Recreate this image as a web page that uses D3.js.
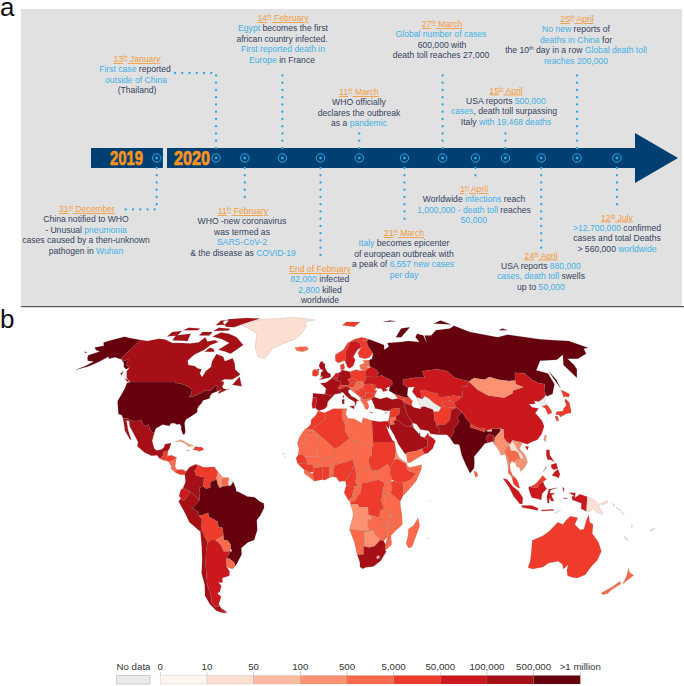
<!DOCTYPE html>
<html><head><meta charset="utf-8">
<script src="https://cdn.jsdelivr.net/npm/d3@7"></script>
<style>html,body{margin:0;padding:0;background:#fff}svg{display:block}text{font-family:"Liberation Sans",Arial,sans-serif}</style>
</head><body><svg id="c" width="684" height="686"></svg>
<script>
// ---------- legend data ----------
const caseThresholds=[10,50,100,500,5000,50000,100000,500000];
const binColors=["#fff5f0","#fee0d2","#fcbba1","#fc9272","#fb6a4a","#ef3b2c","#cb181d","#a50f15","#67000d"];
const legendLabels=["0","10","50","100","500","5,000","50,000","100,000","500,000",">1 million"];
const noDataLabel="No data";
// ---------- timeline data ----------
const yearLabels=["2019","2020"];
const eventTrack=[11.2,21.3,26.2,32.6,39.1,45.7,53.4,59.9,65.5,70.6,76.7,82.8,89.6]; // % along the arrow
const eventTitles=["31^st^ December","13^th^ January","11^th^ February","14^th^ February","End of February","11^th^ March","21^st^ March","27^th^ March","1^st^ April","15^th^ April","24^th^ April","25^th^ April","12^th^ July"];
const eventLines=[
["China notified to WHO","- Unusual {pneumonia}","cases caused by a then-unknown","pathogen in {Wuhan}"],
["{First case} reported","{outside of China}","(Thailand)"],
["WHO -new coronavirus","was termed as","{SARS-CoV-2}","& the disease as {COVID-19}"],
["{Egypt} becomes the first","african country infected.","{First reported death in}","{Europe} in France"],
["{82,000} infected","{2,800} killed","worldwide"],
["WHO officially","declares the outbreak","as a {pandemic}"],
["{Italy} becomes epicenter","of european outbreak with","a peak of {6,557 new cases}","{per day}"],
["{Global number of cases}","600,000 with","death toll reaches 27,000"],
["Worldwide {infections} reach","{1,000,000 - death toll} reaches","{50,000}"],
["USA reports {500,000}","{cases}, death toll surpassing","Italy {with 19,468 deaths}"],
["USA reports {880,000}","{cases, death toll} swells","up to {50,000}"],
["{No new} reports of","{deaths in China} for","the 10^th^ day in a row {Global death toll}","{reaches 200,000}"],
["{>12,700,000} confirmed","cases and total Deaths","> 560,000 {worldwide}"]];
// ---------- map data: estimated cumulative cases (null = no data) ----------
const cases={USA:3300000,Alaska:3300000,Brazil:1800000,India:900000,Russia:730000,
Canada:108000,Mexico:300000,Peru:320000,Chile:315000,Colombia:150000,UK:290000,France:170000,Spain:255000,Germany:200000,Italy:243000,Turkey:212000,Iran:257000,SaudiArabia:232000,Pakistan:250000,SouthAfrica:276000,Iraq:105000,
Argentina:97000,Ecuador:70000,Bolivia:45000,China:85000,Sweden:75000,Indonesia:75000,Philippines:55000,Egypt:80000,Bangladesh:180000,Kazakhstan:55000,Oman:57000,UAE:55000,Qatar:100000,Kuwait:55000,Portugal:50000,Belarus:65000,Ukraine:55000,Romania:32000,Poland:38000,Netherlands:52000,Belgium:63000,Israel:40000,Dominican:45000,Panama:45000,
Venezuela:9500,Guatemala:25000,Honduras:30000,Salvador:10000,Haiti:7000,Nigeria:32000,Ghana:25000,Cameroon:15000,Ethiopia:8000,Kenya:11000,DRC:8000,Sudan:10000,Morocco:16000,Algeria:20000,Guinea:6500,Senegal:8000,IvoryCoast:12000,Gabon:6000,Australia:9800,Japan:22000,SouthKorea:13000,Afghanistan:34000,Uzbekistan:13000,Tajikistan:6500,Kyrgyz:11000,Switzerland:33000,Austria:19000,Ireland:25000,Denmark:13000,Norway:9000,Finland:7000,Czech:13000,Serbia:20000,Moldova:20000,Armenia:32000,Azerbaijan:26000,Greece:4000,Bulgaria:8000,Hungary:4300,Slovakia:2000,Syria:5000,Malaysia:8700,Nepal:17000,Yemen:1500,Georgia:5000,Bosnia:7000,Macedonia:9000,
Guyana:300,Suriname:700,Nicaragua:3000,CostaRica:4000,Paraguay:3000,Uruguay:1000,Iceland:1800,Estonia:2000,Latvia:1200,Lithuania:1900,Slovenia:1900,Croatia:4000,Albania:3500,Jordan:1200,Libya:1400,Tunisia:1300,Mali:2400,Niger:1100,Chad:880,Mauritania:4500,WesternSahara:1000,SierraLeone:1600,Liberia:1000,BurkinaFaso:1000,Togo:700,Benin:1700,CAR:4500,Congo:2500,SouthSudan:2200,Uganda:1000,Rwanda:1300,Tanzania:509,Somalia:3100,Eritrea:232,Djibouti:4800,Zambia:2000,Malawi:2400,Mozambique:1400,Zimbabwe:1300,Namibia:900,Madagascar:4900,SriLanka:2600,Thailand:3200,Lesotho:90,NewZealand:1500,Cyprus:1000,
Cuba:400,Jamaica:300,Mongolia:230,Myanmar:330,Taiwan:450,Vietnam:370,Cambodia:165,Angola:480,Botswana:300,
Laos:19,PNG:11,Bhutan:84,Greenland:13,Timor:24,
Turkmenistan:null,NorthKorea:null,FrenchGuiana:null,Solomon:null,Vanuatu:null,NewCaledonia:null,Fiji:null,CapeVerde:null,Reunion:null,Seychelles:null};
const outlines={
USA:["-124.7,48.4;-123,49;-95.2,49;-94.6,48.7;-92,48.3;-89.6,48;-84.5,46.5;-82.5,45.3;-82.4,43;-83,42;-79,42.8;-79,43.3;-76.5,44;-75,45;-71.5,45;-70.3,46;-69.2,47.4;-68,47.3;-67.8,45.7;-67,44.8;-70,43.7;-70.7,42;-70,41.7;-74,40.6;-74.2,39.5;-75.5,38;-76,36.9;-75.5,35.3;-77.5,34;-79,33.2;-81,32;-81.4,30.5;-80.5,28;-80,26.5;-80.4,25.2;-81.2,25.5;-82.7,27.8;-82.8,29;-84,30;-85.5,29.8;-87,30.4;-89,30.3;-89.5,29.2;-91,29.3;-93.5,29.8;-95,29;-97,28;-97.3,26;-99,26.4;-100.5,28;-101.5,29.8;-103,29;-104.5,29.6;-106.5,31.8;-108.2,31.4;-111,31.3;-114.8,32.5;-117.1,32.5;-118.5,34;-120.6,34.5;-122,36.8;-123.8,39.5;-124.3,40.5;-124.1,43;-124,46.2"],
Alaska:["-141,69.6;-141,60.3;-137.5,58.9;-135.5,59.8;-133.5,57;-130,55.9;-131.5,55;-134,56;-136.5,58;-140,59.7;-146,60.7;-149,60;-151,61;-154,58.5;-158,56.3;-164,54.6;-160,56.5;-157.5,58.7;-162,59;-164.5,60.5;-166,61.8;-161,63.6;-165,64.4;-168,65.6;-163,66.5;-166.5,68.3;-163,69.5;-156.5,71.3;-150,70.5","-172,63.5;-169,63.3;-170,63"],
Canada:["-141,69.6;-135,69;-128,70.2;-123,69.8;-115,68;-108,68;-102,67.8;-96,68.2;-94,71;-90,68.8;-85,69.5;-81.5,68.5;-86,67;-88,64.5;-93,62;-94.7,59;-92.5,57;-88,56.5;-85,55.3;-82.3,55;-82,52.8;-79.5,51.3;-79,54;-76.8,56;-78,58.7;-77.7,62.4;-72,61;-69.5,58.8;-65,60.3;-62,57.5;-60.5,55;-56,52.5;-60,50.2;-65,50.3;-67,49.3;-65,49.2;-64.5,48;-65,47;-64,46;-61,45.5;-60,46;-63.5,44.6;-66,43.6;-66,44.5;-64.5,45.6;-67,44.8;-67.8,45.7;-68,47.3;-69.2,47.4;-70.3,46;-71.5,45;-75,45;-76.5,44;-79,43.3;-79,42.8;-83,42;-82.4,43;-82.5,45.3;-84.5,46.5;-89.6,48;-92,48.3;-94.6,48.7;-95.2,49;-123,49;-127,51;-130,54;-130,55.9;-133.5,57;-135.5,59.8;-137.5,58.9;-141,60.3",
"-123.5,48.4;-128,50.6;-125,50","-59,47.7;-56,51.5;-53,47","-62,67;-68,62.5;-72,63.5;-78,64.5;-73,68;-80,70;-89,71.5;-85,73.7;-78,73;-70,71","-105,69;-117,69.5;-118,72;-108,73","-117,72;-124,71.5;-124,74;-117,74.5","-62,82.5;-75,83;-90,82;-92,80;-85,77;-78,76.8;-72,79","-80,74.8;-92,74.5;-90,76.5;-80,75.8","-105,75;-117,75;-115,76.5;-105,76","-92,72;-100,72;-100,74;-92,74","-88,78.5;-95,78;-95,81;-88,81","-80,63.5;-87,63.5;-85,65.5;-82,65","-132,54;-133,53;-131.5,52"],
Greenland:["-73,78;-68,80;-60,82;-45,82.5;-32,83.5;-12,81.5;-20,80;-18,77;-22,72;-25,70;-32,68;-40,65;-43,60;-48,61;-52,65;-54,69;-56,73;-65,76"],
Iceland:["-24,65.5;-22,64;-18,63.5;-14,64.5;-15,66;-20,66"],
Mexico:["-117.1,32.5;-114.8,32.5;-111,31.3;-108.2,31.4;-106.5,31.8;-104.5,29.6;-103,29;-101.5,29.8;-100.5,28;-99,26.4;-97.3,26;-97.8,22.5;-96,19;-94.5,18.2;-92,18.6;-90.7,19.5;-90.4,21;-87,21.5;-87.6,19;-88.2,18;-89.1,17.9;-91,17.2;-90.5,16;-92.2,14.5;-94,16;-97,15.8;-101,17.2;-105.5,20;-105.5,22;-109,26;-112,29;-113,31.3;-114.8,31.7;-112.5,27.5;-109.5,23;-110.3,23.2;-114,27;-115.5,30"],
Guatemala:["-92.2,14.5;-90.5,16;-91,17.2;-89.1,17.9;-88.2,18;-88.3,16;-88.2,15.7;-89.3,14.4;-90.1,13.8"],
Honduras:["-89.3,14.4;-88.2,15.7;-86,16;-83.2,15;-84.5,14;-87.3,13.1"],
Salvador:["-90.1,13.8;-89.3,14.4;-87.7,13.3"],
Nicaragua:["-87.3,13.1;-84.5,14;-83.2,15;-83.6,11;-85.7,11.1"],
CostaRica:["-85.7,11.1;-83.6,11;-82.6,9.5;-83,8.2;-85.7,10"],
Panama:["-83,8.2;-82.6,9.5;-79.5,9.6;-77.4,8.7;-78,7.3;-80.5,7.3"],
Cuba:["-85,22;-82,23.1;-77,21;-74.2,20.2;-77.5,19.9;-78.5,21;-82,22.3"],
Jamaica:["-78.3,18.4;-76.3,18;-77,17.8"],
Haiti:["-74.4,18.5;-73.5,19.9;-71.7,19.7;-71.7,18.2"],
Dominican:["-71.7,19.7;-69.8,19.6;-68.4,18.6;-71.4,17.7;-71.7,18.2"],
Colombia:["-77.4,8.7;-75.5,10.7;-72.2,12;-71.3,11;-72.8,9;-71.8,7;-67.5,6.2;-67.8,2;-70,1.5;-69.6,-0.5;-70,-4.2;-72,-2.4;-75.2,-0.1;-78.8,1.4;-77.5,4;-78,7.3"],
Venezuela:["-72.2,12;-68,10.6;-62,10.7;-60,8.5;-61,5;-60.7,5.2;-64,4;-64,1.5;-66.5,1;-67.8,2;-67.5,6.2;-71.8,7;-72.8,9;-71.3,11"],
Guyana:["-60,8.5;-57.2,6;-58,4;-57.3,2;-59,1.3;-60,3;-60.7,5.2;-61,5"],
Suriname:["-57.2,6;-54,5.9;-54.3,2.3;-57.3,2;-58,4"],
FrenchGuiana:["-54,5.9;-51.6,4.2;-52.8,2.3;-54.3,2.3"],
Ecuador:["-78.8,1.4;-75.2,-0.1;-75.5,-1.5;-78.5,-4.5;-80,-3.4;-81,-2.2;-80,0.5"],
Peru:["-81.3,-4.7;-80,-3.4;-78.5,-4.5;-75.5,-1.5;-75.2,-0.1;-72,-2.4;-70,-4.2;-73,-7;-74,-7.5;-70.6,-9.5;-70.6,-11;-69,-12.5;-69.4,-15.5;-69.5,-17.5;-70.4,-18.3;-76,-14;-78,-10"],
Brazil:["-60.7,5.2;-60,3;-59,1.3;-57.3,2;-54.3,2.3;-52.8,2.3;-51.6,4.2;-50,1;-50,0;-48,-0.7;-44,-2.5;-40,-2.8;-37,-4.8;-35,-5.5;-34.8,-7.5;-37,-11;-39,-13;-39,-17.5;-41,-22;-44.5,-23;-48.5,-25.5;-48.7,-28.5;-52,-32.5;-53.4,-33.7;-53.5,-32;-56,-30.2;-57.6,-30.2;-55,-27.3;-53.8,-27;-54.6,-25.5;-54.3,-24;-55.7,-22.3;-58,-22;-57.9,-19;-58.2,-16.3;-60.2,-16.3;-60.5,-13.7;-65.3,-11.5;-65.4,-9.8;-69,-11;-70.6,-11;-70.6,-9.5;-74,-7.5;-73,-7;-70,-4.2;-69.6,-0.5;-70,1.5;-67.8,2;-66.5,1;-64,1.5;-64,4"],
Bolivia:["-69,-11;-65.4,-9.8;-65.3,-11.5;-60.5,-13.7;-60.2,-16.3;-58.2,-16.3;-57.9,-19;-58,-20;-62.5,-22;-65,-22;-67,-23;-68.5,-20;-69.5,-17.5;-69.4,-15.5;-69,-12.5;-70.6,-11"],
Paraguay:["-62.5,-22;-58,-20;-57.9,-19;-58,-22;-55.7,-22.3;-54.3,-24;-54.6,-25.5;-55,-27;-58.5,-27.2;-60,-24"],
Chile:["-70.4,-18.3;-69.5,-17.5;-68.5,-20;-67,-23;-68.5,-27;-70,-33;-71,-38;-72,-42;-72,-48;-73,-50;-72,-52;-68.5,-52.3;-68.6,-54.9;-67,-55.5;-72,-54;-74.5,-51;-75.5,-47;-73.5,-42;-73.5,-37;-71.5,-31;-70.5,-25"],
Argentina:["-67,-23;-65,-22;-62.5,-22;-60,-24;-58.5,-27.2;-55,-27;-53.8,-27;-55,-27.3;-57.6,-30.2;-58.2,-34;-57,-36;-57.7,-38;-62,-39;-62.5,-41;-65,-41;-63.8,-42.5;-65.5,-45;-67.5,-46;-65.8,-47.5;-69,-51;-68.5,-52.3;-72,-52;-73,-50;-72,-48;-72,-42;-71,-38;-70,-33;-68.5,-27","-68.5,-52.7;-65.3,-54.8;-68.6,-54.9"],
Uruguay:["-57.6,-30.2;-56,-30.2;-53.5,-32;-53.4,-33.7;-55,-35;-58.2,-34"],
UK:["-5.5,50;-1,50.7;1.5,51.2;1.7,52.7;0,53.3;-1.5,55;-2,56;-2,57.7;-3.5,57.7;-3,58.6;-5,58.6;-6,56.7;-4.8,55;-3,54.5;-4.5,53.3;-4.5,52;-5,51.6;-3,51.4","-8,54.5;-6,55.2;-5.6,54.4"],
Ireland:["-10,52;-8,51.6;-6.2,52.2;-6,53.5;-6.2,54.2;-8,54.5;-8.3,55.2;-10,54.2"],
France:["-1.8,43.4;-1.2,46;-4.7,48.4;-1.5,48.7;1.5,50.1;2.6,51;4.2,50;5.9,49.5;8.2,49;7.6,47.6;6,46.3;7,45.8;7.5,43.8;4,43.4;3,42.5","8.7,42.5;9.5,43;9.4,41.5"],
Spain:["-9,43.8;-1.8,43.4;3,42.5;0.5,40.6;-0.3,39.5;-0.5,38;-2,36.8;-5.4,36;-7.4,37.2;-7,39;-6.5,41.8;-9,41.9"],
Portugal:["-9,41.9;-6.5,41.8;-7,39;-7.4,37.2;-9,37;-9.5,38.7"],
Netherlands:["3.4,51.4;4.8,53;7,53.3;6.1,50.8"],
Belgium:["2.6,51;3.4,51.4;6.1,50.8;5.9,49.5;4.2,50"],
Germany:["6.1,50.8;7,53.3;8.7,54;8.7,55;10,54.5;14.2,53.8;14.8,51;12.2,50.2;13.7,48.7;13,47.5;9.6,47.5;7.6,47.6;8.2,49;5.9,49.5"],
Switzerland:["6,46.3;7.6,47.6;9.6,47.5;10.4,46.8;8.5,46;7,45.8"],
Austria:["9.6,47.5;13,47.5;13.7,48.7;16.9,48.6;16.1,46.8;13,46.5;10.4,46.8"],
Italy:["7,45.8;8.5,46;10.4,46.8;13,46.5;13.7,45.6;12.3,45.3;12.3,44.3;14,42.5;16,41.8;18.5,40.2;17,40.5;16.7,39.6;16,38;15.7,40;12.5,41.5;10.5,43;8.8,44.4;7.5,43.8","12.5,38;15.5,38.2;15.1,36.7","8.2,41;9.7,41;9.5,39;8.5,39"],
Denmark:["8.1,55;8.7,55;10,54.8;11,55.5;10.5,57.7;8.2,57"],
Norway:["5,59;7,58;10.5,59;11.5,59;12.5,61;12,63.5;14,65;16.5,68.5;20.5,69;25,69;29,69.5;31,70;26,71;20,70;14.5,68;11,64.5;5,62","12,78;22,77;28,80;16,80"],
Sweden:["11.5,59;12.7,56;14.3,55.4;16.5,56.5;18.5,59.5;17.3,61;21,64.5;24,65.8;23.5,68;20.5,69;16.5,68.5;14,65;12,63.5;12.5,61"],
Finland:["24,65.8;21,63;21.5,60.8;25,60;28,60.5;31.5,62.8;29,66.5;29,69;29,69.5;25,69;20.5,69;23.5,68"],
Estonia:["23.5,59.2;28,59.4;27.5,57.6;24.5,58"],
Latvia:["21,57;24.5,58;27.5,57.6;28,56;25,56.3;21,56.2"],
Lithuania:["21,56.2;25,56.3;26.6,55.6;24,54;22.8,54.4;21,55.3"],
Poland:["14.2,53.8;18.5,54.8;19.7,54.4;22.8,54.4;24,54;23.6,51.5;24,50.4;22.5,49.1;19,49.5;14.8,51"],
Czech:["12.2,50.2;14.8,51;19,49.5;16.9,48.6;13.7,48.7"],
Slovakia:["16.9,48.6;19,49.5;22.5,49.1;22,48.4;18,47.8"],
Hungary:["16.1,46.8;16.9,48.6;18,47.8;22,48.4;22.9,48;21,46.2;18.8,45.9;16.5,46.5"],
Slovenia:["13.7,45.6;13,46.5;16.1,46.8;16.5,46.5;15.3,45.5"],
Croatia:["13.7,45.6;15.3,45.5;16.5,46.5;18.8,45.9;19,45;16,45.2;18.5,42.5;15,44.7"],
Bosnia:["16,45.2;19,45;19.5,44;18.5,42.5"],
Serbia:["19,45;18.8,45.9;21,46.2;22.5,44.5;22.4,42.3;20.5,42.3;19.3,42;18.5,42.5;19.5,44"],
Albania:["19.3,42;20.5,42.3;21,40.9;20,39.7;19.4,40.5"],
Macedonia:["20.5,42.3;22.4,42.3;23,41.3;21,40.9"],
Greece:["20,39.7;21,40.9;23,41.3;26.3,41.7;26,40.9;23,40.3;24,38;23,36.5;21.7,36.8;21,38.5","23.6,35.5;26.3,35.3;25,35"],
Bulgaria:["22.5,44.3;28.5,43.6;27.7,42.5;28,42;26.3,41.7;23,41.3;22.4,42.3"],
Romania:["21,46.2;22.9,48;26.6,48.2;28.2,45.5;29.7,45;28.5,43.6;22.5,44.3"],
Moldova:["26.6,48.2;28.5,48;30,46.4;28.2,45.5"],
Ukraine:["22.5,49.1;24,50.4;23.6,51.5;30.6,51.3;34,52.2;40,49.6;39.7,47.8;38,47;35,46;36.5,45.3;33.5,44.5;32.5,46;30.5,46;30,46.4;28.5,48;26.6,48.2;22.9,48;22,48.4"],
Belarus:["24,54;26.6,55.6;28,56;31,55;32.7,53.3;30.6,51.3;23.6,51.5"],
Russia:["31,70;41,67;40,64.5;44,66;44,68;54,68.5;60,69;68,68.5;67,71;70,73;74,72;73,68;75,72;80,72;87,75;100,76;106,77.7;113,74;130,71;140,72.5;160,70;170,69.5;180,69;187,65.5;183,65;180,62.5;170,60;163,60;163,57;162,55;157,51;156,57;163,62;155,59.5;143,59;135,54.5;141,53;140,48;135,43.5;131,42.5;130.7,43;131,45;134,48;130.5,48.5;127.5,50;126,53;120,53.3;117,49.7;113,49.5;107,50;102,51.3;98,50;92,50.8;87.8,49.2;80,51;77,54;71,55;61,54;61,51;55,51;47,50;46.5,48;49,46.5;47.5,43;48.5,41.8;46,41.8;40,43.5;37,45;38,47;39.7,47.8;40,49.6;34,52.2;30.6,51.3;32.7,53.3;31,55;28,56;27.5,57.6;28,59.4;30,60;31.5,62.8;29,66.5;29,69",
"52,71;56,71;68,76.8;60,76","91,79;105,78.5;100,81","142,46;143,50;142.5,54;142,51","138,75;145,75;143,76","48,80;60,80.5;55,81"],
Turkey:["26.3,41.7;28,42;31,41.2;35,42;38,41;41.5,41.5;43.5,41;44.7,39.7;44.8,37.2;42,37.2;36.5,36.7;36,36;32.5,36;30.5,36.5;27.5,37;26.5,39.5;26,40.9"],
Georgia:["40,43.5;46,41.8;45,41;43.5,41;41.5,41.5"],
Armenia:["43.5,41;45,41;46.5,39;44.7,39.7"],
Azerbaijan:["45,41;46,41.8;48.5,41.8;50,40.3;48.8,38.4;46.5,39"],
Cyprus:["32.5,35;34.5,35.5;33,34.6"],
Syria:["36,36;36.5,36.7;42,37.2;41,34.4;38.8,33.4;35.7,32.7;35.1,33.1"],
Israel:["34.3,31.3;35.1,33.1;35.7,32.7;35,29.5"],
Jordan:["35.7,32.7;38.8,33.4;39,32;37,31;38,30;35,29.5"],
Iraq:["42,37.2;44.8,37.2;45.5,34;48,30.5;47.7,30;46.5,29;44,29;39,32;38.8,33.4;41,34.4"],
SaudiArabia:["35,29.5;38,30;37,31;39,32;44,29;46.5,29;48,28.5;50,26.5;51.5,24.5;55.5,22.7;55,20;52,19;49,18;44,17.3;43,16.8;42.5,16.5;39,21;37,25;35,28"],
Kuwait:["46.5,29;47.7,30;48.4,28.5"],
Qatar:["50.8,24.8;51.6,25;51.3,26.1;50.8,25.8"],
Yemen:["43,16.8;44,17.3;49,18;52,19;53,16.6;45,12.8;43.5,12.7"],
Oman:["55.5,22.7;56.3,24.9;58.7,23.5;59.8,22.4;57.8,19;55,17;53,16.6;52,19;55,20"],
UAE:["51.5,24.5;54,24;56,26;56.3,24.9;55.5,22.7"],
Iran:["44.7,39.7;46.5,39;48.8,38.4;50,37.4;54,36.8;54,37.4;56,38;61,36.5;61,34;60.8,31.5;61.7,30;61,29.3;63,27.2;61.6,25.2;57.3,25.7;56.5,27;52,27.5;50,30;48,30.5;45.5,34;44.8,37.2"],
Turkmenistan:["52.9,42;56,41.3;58,42.6;60,41.5;62,39.7;66,37.4;64,35.5;61,35.5;61,36.5;56,38;54,37.4;53.5,39.5"],
Uzbekistan:["56,45;56,41.3;58,42.6;60,41.5;62,39.7;66,37.4;68,38;66.5,39.3;70.5,40.3;73,40.8;71,42.3;66,42;66,43.7;61,44.5;58.5,45.5"],
Kazakhstan:["47,50;55,51;61,51;61,54;71,55;77,54;80,51;87.8,49.2;85.5,47;83,47;82,45.3;80,42.2;75,42.8;71,42.3;66,42;66,43.7;61,44.5;58.5,45.5;56,45;56,41.3;52.9,42;51,44.5;53,46.8;49,46.5;46.5,48"],
Kyrgyz:["71,42.3;75,42.8;80,42.2;74,39.5;70.5,40.3;73,40.8"],
Tajikistan:["68,38;70,37.5;74.9,37.3;74,39.5;70.5,40.3;66.5,39.3"],
Afghanistan:["61,35.5;64,35.5;66,37.4;68,38;70,37.5;74.9,37.3;71.5,36.3;70,33;69,31.5;66.3,29.8;61,29.3;61.7,30;60.8,31.5;61,34"],
Pakistan:["61.6,25.2;63,27.2;61,29.3;66.3,29.8;69,31.5;70,33;71.5,36.3;74.9,37.3;77.5,35.5;74,33;74.5,31;71,28;70,25.5;68,23.8;66.5,25.2"],
India:["68,23.8;70,25.5;71,28;74.5,31;74,33;77.5,35.5;79,32.5;81,30;80,28.7;88,26.4;88.2,27.9;88.8,27;89.8,26.7;92,26.8;92,27.9;97,28;97,27;93,24;92.2,21;92,23;92.5,25;89.8,25.3;88,24;88.8,21.6;87,21.3;85,19.5;80.3,15.5;80.2,13;79.8,10.3;77.5,8;75.5,11.5;73.5,16;72.8,20.5;72,21;70,21;69,22.3"],
Nepal:["80,28.7;81,30;84,28.5;88.2,27.9;88,26.4"],
Bhutan:["88.8,27;92,27.9;92,26.8;89.8,26.7"],
Bangladesh:["88,24;89.8,25.3;92.5,25;92,23;92.2,21;91.8,22.3;90.5,22;88.8,21.6"],
SriLanka:["79.8,9;81.2,8.5;81.8,7;80.5,6;79.8,7.5"],
China:["74,39.5;80,42.2;82,45.3;83,47;85.5,47;87.8,49.2;91,45.5;96,42.8;105,41.8;111.5,44;112,45;119.7,46.7;116,48;117,49.7;120,53.3;126,53;127.5,50;130.5,48.5;134,48;131,45;130.7,43;128,41.5;124.3,40;122,40.5;121.5,39;118,39;119,37.5;122.5,37;119.5,35;121.8,31.5;122,29;119.5,25.5;116.5,23;113,22;110.5,21;108,21.6;106.7,22;102.5,22.7;101.2,21.2;99.2,22;98,24;98.7,27.7;97,28;92,27.9;88.8,27;88.2,27.9;84,28.5;81,30;79,32.5;77.5,35.5;74.9,37.3","109,20;111,19.8;110,18.3"],
Mongolia:["87.8,49.2;92,50.8;98,50;102,51.3;107,50;113,49.5;117,49.7;116,48;119.7,46.7;112,45;111.5,44;105,41.8;96,42.8;91,45.5"],
NorthKorea:["124.3,40;128,41.5;130.7,43;130.5,42.3;127.5,39.8;128.4,38.6;125,37.8;125,39.5"],
SouthKorea:["125,37.8;128.4,38.6;129.4,36;129,35;126.5,34.3;126.5,37"],
Japan:["130.9,34;132,35.5;136,35.8;137,37;139.5,38.3;140,40.5;141.3,41.4;142,39.5;140.8,36;140,35;137,34.6;135,33.7;132.5,34.2","130,33.5;131.7,33.5;131.3,31.3;130.2,31.5","132.5,33.9;134.5,34.2;133.5,33","140.5,41.8;141.7,45.4;145.3,43.5;143.5,42;141.5,42.5"],
Taiwan:["121,25;122,25;120.8,22;120.1,23"],
Myanmar:["92.2,21;93,24;97,27;97,28;98.7,27.7;98,24;99.2,22;101.2,21.2;100,20.3;97.5,18;98.7,15;99.5,12;98.5,10.5;98,14;97.5,16.5;95,16;94.5,18"],
Thailand:["97.5,18;100,20.3;100.5,20;101,18;103,18;104.8,17.3;105.5,14.5;102.5,13.8;102,12.5;100.8,13.5;99.5,12;99.5,9.5;100.5,7.2;102,6.1;101,5.7;100,6.5;98.3,8;98.5,10.5;99.5,12;98.7,15"],
Laos:["100.5,20;101.2,21.2;102.5,22.7;104,20.5;104.5,18.7;106.7,16.5;107.5,14.8;105.5,14.5;104.8,17.3;103,18;101,18"],
Vietnam:["102.5,22.7;106.7,22;108,21.6;105.8,19;108.5,16;109.3,13;107.5,10.5;105,8.7;104.7,10.4;106.5,11.5;107.5,14.8;106.7,16.5;104.5,18.7;104,20.5"],
Cambodia:["102.5,13.8;105.5,14.5;107.5,14.8;106.5,11.5;104.7,10.4;103,11"],
Malaysia:["100,6.5;101,5.7;102,6.1;103.4,4;104.2,1.4;103.4,1.4;101,3","109.6,2;111.3,1.5;114,1.5;115,3;117,4.3;119,5.2;117,7;115.5,5.5;113,3.2;110,1.8"],
Indonesia:["95.3,5.6;97.5,5.2;100.5,2;103.5,0;106,-3;105.8,-5.8;104.5,-5.8;101,-2.5;98.5,1.7","105.3,-6.5;108.5,-6.5;111,-6.5;114.5,-7.7;114.5,-8.7;110,-8;106,-7.4","109,1.5;109.6,2;111.3,1.5;114,1.5;115,3;117,4.3;118,2;119,1;116.5,-1;116,-4;114,-3.5;111,-3;110,-1.5","120,0.8;125,1.5;121,0.4;120.5,-1;123.3,-0.9;121.5,-2;123,-4.5;121.5,-4.5;120.5,-3;120.3,-5.5;119.5,-5.4;119,-2.5","131,-0.8;134.5,-0.8;134.3,-3;137,-1.5;141,-2.6;141,-9.1;138,-8;138,-5.5;133,-4;132.5,-2.5;134,-2.2","127.5,1.8;128.5,1;128,-0.5","116,-8.5;119,-8.4;123,-8.2;123,-8.7;117,-9","127.8,-3;130.8,-3.2;129,-3.5"],
Timor:["123.5,-10.3;127,-8.4;125,-9.5"],
Philippines:["120.5,18.5;122.2,18.4;122,16;124,13;122,14;120.5,14;120,16","122,7;123.5,8.5;125.5,9.7;126.5,7.5;125.5,5.8;124,6.5","122,11.8;125,12.5;125.5,10;123,9.5;122,10.5","117.2,8.4;119.5,11.3;119,10.3"],
PNG:["141,-2.6;145,-4.2;148,-6;147.5,-7;150.5,-10.5;147,-9.8;144,-7.7;143,-9.2;141,-9.1","148.5,-5.6;152,-4.2;152,-5.5;149,-6.3"],
Solomon:["155,-5.5;156.5,-7;155.5,-6.8","157,-7.2;160,-8.8;158.5,-8.5","160,-9.2;162,-10.7;160.5,-10"],
Vanuatu:["166.8,-15;167.5,-15.5;167,-16.5"],
NewCaledonia:["164,-20.2;167,-22.3;165,-21.7"],
Fiji:["177.5,-17.6;180,-16.5;178.5,-18"],
CapeVerde:["-25,17;-24,16.6;-24.5,16.2","-23.8,15.4;-23.2,15.2;-23.6,14.9"],
Reunion:["55.2,-20.9;55.8,-21.1;55.3,-21.4"],
Seychelles:["55.3,-4.4;55.7,-4.6;55.4,-4.9"],
Australia:["113.5,-22;114,-26;115,-31;115,-34.3;118,-35;123.5,-34;126,-32.3;131,-31.5;134,-32.8;135.7,-35;137.5,-33;138,-35.5;140,-38;143.5,-38.8;146.5,-39;150,-37.5;151,-34;153,-31;153.5,-27;150.5,-23;146,-19;145.5,-15;143.5,-14;142.5,-10.7;141.5,-13;141,-17;139,-17.5;135.5,-15;136.7,-12;132.5,-11.3;130.5,-13;129,-15;126,-14;122,-18;119,-20;114,-22"],
NewZealand:["173,-34.5;175,-36.5;178.5,-37.7;177,-39.5;175.3,-41.6;174.8,-39.5;174.5,-38","172.7,-40.5;174.3,-41.7;171.2,-44.3;170.7,-46;168.3,-46.6;166.5,-45.8;170.5,-43"],
Morocco:["-5.9,35.8;-2,35.1;-1.2,32.5;-3,31.5;-8.7,27.7;-13,27.7;-11.5,28.3;-9.8,29.8;-9.5,32;-6.8,34"],
WesternSahara:["-13,27.7;-8.7,27.7;-8.7,26;-12,26;-13,21.3;-17,21.3;-16,24;-14.5,26"],
Algeria:["-2,35.1;3,36.9;8.6,36.9;8.2,32.5;9.5,30;9.8,26.5;12,23.5;5.8,19.5;3.3,19;1,20.9;-4.8,25;-8.7,27.7;-3,31.5;-1.2,32.5"],
Tunisia:["8.6,36.9;11,37;10.2,34.5;11.5,32.5;10,30.5;9.5,30;8.2,32.5"],
Libya:["11.5,32.5;15,32.4;19,30.3;20,32.8;25,31.6;25,20;24,19.5;15,23;14.2,22.7;12,23.5;9.8,26.5;9.5,30;10,30.5"],
Egypt:["25,31.6;29,31;32,31.2;34.3,31.3;34.9,29.5;34,27.8;32.6,29.8;33.8,26.5;35.7,23;37,22;25,22"],
Sudan:["25,22;37,22;37.5,18;36.5,14;34,10;32.5,12;28,9.5;24,9;23.5,10;22,13;22.5,15.5;24,15.7;24,19.5;25,20"],
SouthSudan:["24,9;28,9.5;32.5,12;34,10;33.8,7.9;35,5;33.9,4;30.8,3.6;27.5,5;25,7"],
Chad:["14.2,22.7;15,23;24,19.5;24,15.7;22.5,15.5;22,13;23.5,10;19,9;15.5,7.5;14,12.5;13.5,14;15.5,16.5;15,20"],
Niger:["3.3,19;5.8,19.5;12,23.5;14.2,22.7;15,20;15.5,16.5;13.5,14;9,12.8;3.6,11.7;3,12.3;1,13.3;1,15;3.3,15.4"],
Mali:["-12.2,14.7;-11.5,15.6;-5.5,15.5;-6.5,25;-4.8,25;1,20.9;3.3,19;3.3,15.4;1,15;-3,14.5;-5.5,10.5;-8,10.5;-8.5,11.7;-11.3,12;-11.3,12.4"],
Mauritania:["-17,21.3;-13,21.3;-12,26;-8.7,26;-8.7,27.7;-4.8,25;-6.5,25;-5.5,15.5;-11.5,15.6;-12.2,14.7;-14,16.5;-16.5,16;-16,19"],
Senegal:["-16.5,16;-14,16.5;-12.2,14.7;-11.3,12.4;-16.7,12.4;-17.5,14.7"],
Guinea:["-15,11;-16.7,12.4;-11.3,12.4;-11.3,12;-8.5,11.7;-8,10.5;-7.8,8.5;-10,8.5;-13,9.5"],
SierraLeone:["-13,9.5;-10,8.5;-11.5,7;-13,8"],
Liberia:["-11.5,7;-10,8.5;-8.5,7.7;-7.5,4.5"],
IvoryCoast:["-8.5,7.7;-7.8,8.5;-8,10.5;-5.5,10.5;-3,11;-2.8,5.2;-7.5,4.4"],
BurkinaFaso:["-5.5,10.5;-3,14.5;1,15;1,13.3;3,12.3;1,11;-3,11"],
Ghana:["-3,11;0.5,11;0.5,6;1,6;-2,4.8;-2.8,5.2"],
Togo:["0.5,11;1,11;1.7,6.2;1,6;0.5,6"],
Benin:["1,11;3,12.3;3.6,11.7;2.7,6.4;1.7,6.2"],
Nigeria:["3.6,11.7;9,12.8;13.5,14;14,12.5;13,9;11.5,6.7;9,4.5;6,4.3;4.5,6.2;2.7,6.4"],
Cameroon:["14,12.5;15.5,7.5;15,4;16,2;13,2.2;9.8,2.3;9.7,4;9,4.5;11.5,6.7;13,9"],
CAR:["15.5,7.5;19,9;23.5,10;24,9;25,7;27.5,5;22.5,4;18.6,3.5;16,2;15,4"],
Gabon:["9.8,2.3;13,2.2;14.5,2;13,-2.3;14.3,-2;11,-4;8.8,-0.8"],
Congo:["14.5,2;16,2;18.6,3.5;17.7,-1;16.2,-2;15,-4.3;12.2,-5;11,-4;14.3,-2;13,-2.3"],
DRC:["18.6,3.5;22.5,4;27.5,5;30.8,3.6;29.6,-0.5;29.6,-1.4;29,-4.5;30.7,-8.2;28.7,-8.5;28,-12.3;29.8,-13.4;28,-12;24,-11;22,-11;21.8,-7.3;17,-7.3;16.2,-5.9;12.2,-6;12.2,-5;15,-4.3;16.2,-2;17.7,-1"],
Uganda:["30.8,3.6;33.9,4;35,1.7;34,-1;29.6,-1.4;29.6,-0.5"],
Rwanda:["29.6,-1.4;30.8,-1.2;30.7,-4.5;29,-4.5"],
Kenya:["33.9,4;36,4.5;39,3.4;41,4;41,-1.7;39.3,-4.7;34,-1;35,1.7"],
Tanzania:["30.8,-1.2;34,-1;39.3,-4.7;39.5,-7;40.4,-10.5;37.5,-11.7;34.9,-11.5;33.8,-9.5;30.7,-8.2;29,-4.5;30.7,-4.5"],
Ethiopia:["34,10;36.5,14;38,14.5;42,12.5;43,11.5;42.8,10.9;44,9;48,8;45,5;42,4;41,4;39,3.4;36,4.5;35,5;33.8,7.9"],
Eritrea:["36.5,14;37.5,18;39,15;43,12.5;42,12.5;38,14.5"],
Djibouti:["42,12.5;43,12.5;43.3,11.5;43,11.5"],
Somalia:["43,11.5;44.5,10.5;51.3,11.8;50.8,9.5;48,4.5;41.5,-1.7;41,-1.7;41,4;42,4;45,5;48,8;44,9;42.8,10.9"],
Angola:["12.2,-6;16.2,-5.9;17,-7.3;21.8,-7.3;22,-11;24,-11;24,-13;22,-13;22,-16.2;23.4,-17.8;20.9,-18;14,-17.4;11.8,-17.3;13.7,-11;13.7,-10;13,-8"],
Zambia:["22,-13;24,-13;24,-11;28,-12;29.8,-13.4;28,-12.3;28.7,-8.5;30.7,-8.2;33.8,-9.5;33.2,-14;30.3,-15.6;28,-16;25.3,-17.8;23.4,-17.8;22,-16.2"],
Malawi:["33.8,-9.5;34.9,-11.5;35,-13.5;35.8,-14.7;35,-17;33.2,-14"],
Mozambique:["34.9,-11.5;37.5,-11.7;40.4,-10.5;40.8,-15;37,-18;34.8,-20;35.5,-24;33,-26;32,-26.8;32,-24;33,-20.5;32.9,-16;30.3,-15.6;33.2,-14;35,-17;35.8,-14.7;35,-13.5"],
Zimbabwe:["25.3,-17.8;28,-16;30.3,-15.6;32.9,-16;33,-20.5;31,-22.4;29,-22;26,-19.5"],
Botswana:["20,-18.2;23.4,-17.8;25.3,-17.8;26,-19.5;29,-22;26,-24.7;23,-25.3;20,-24.8"],
Namibia:["11.8,-17.3;14,-17.4;20.9,-18;23.4,-17.8;20,-18.2;20,-24.8;20,-28.4;16.5,-28.6;14.5,-22.5"],
SouthAfrica:["16.5,-28.6;20,-28.4;20,-24.8;23,-25.3;26,-24.7;29,-22;31,-22.4;32,-24;32,-26.8;32.8,-27;30,-31.3;26,-33.8;22,-34.2;20,-34.8;18.4,-34.1;18.2,-32"],
Lesotho:["27.2,-29.5;28.8,-28.8;29.4,-29.8;28,-30.6"],
Madagascar:["49.3,-12;50.4,-15.6;47,-25;45,-25.5;43.5,-23.5;44.3,-20;44.3,-17;47,-15.5"]
};
// Robinson projection table, every 5 degrees of latitude
const robinsonPlen=[1,.9986,.9954,.99,.9822,.973,.96,.9427,.9216,.8962,.8679,.835,.7986,.7597,.7186,.6732,.6213,.5722,.5322];
const robinsonPdfe=[0,.062,.124,.186,.248,.31,.372,.434,.4958,.5571,.6176,.6769,.7346,.7903,.8435,.8936,.9394,.9761,1];

// ---------- drawing ----------
const svg=d3.select("#c");
const NAVY="#003f72",BLUE="#3fb0e6",DOT="#29abe2",ORANGE="#f39a3a",INK="#34435f";
svg.append("rect").attr("x",21).attr("y",9).attr("width",661).attr("height",297).attr("fill","#e1e1e1");
svg.append("line").attr("x1",21).attr("x2",684).attr("y1",306.7).attr("y2",306.7).attr("stroke","#5a5a5a").attr("stroke-width",1.3);

const track=d3.scaleLinear().domain([0,100]).range([91,678]);
const barY=158, barH=20;
svg.append("rect").attr("x",track(0)).attr("y",barY-barH/2).attr("width",track(12.25)-track(0)).attr("height",barH).attr("fill",NAVY);
svg.append("path").attr("fill",NAVY).attr("d",d3.line()([[167,148],[635,148],[635,133],[track(100),barY],[635,183],[635,168],[167,168]])+"Z");
yearLabels.forEach((t,i)=>svg.append("text").text(t).attr("x",[126.5,192][i]).attr("y",164.8).attr("text-anchor","middle")
  .attr("fill","#f7931e").attr("stroke","#f7931e").attr("stroke-width",.7).style("font-family","'Liberation Sans Narrow','Liberation Sans'").style("font-weight",700).style("font-size","20px")
  .attr("textLength",[33,36][i]).attr("lengthAdjust","spacingAndGlyphs"));

const noteLayout=[
 {cx:87,y:212,lx:[86,86,86,86],leader:[[0,168],[0,209.5],[121,209.5]]},
 {cx:137,y:62,lx:[135,136,137],leader:[[0,148],[0,73],[175,73]]},
 {cx:243,y:214,lx:[242,242,242,243],leader:[[0,168],[0,203]]},
 {cx:283,y:21,lx:[283,282,283,282],leader:[[0,148],[0,70]]},
 {cx:320,y:272,lx:[320,320,320],leader:[[0,168],[0,261]]},
 {cx:359,y:95,lx:[359,359,359],leader:[[0,148],[0,127]]},
 {cx:404,y:236,lx:[404,404,403,404],leader:[[0,168],[0,225]]},
 {cx:442,y:27,lx:[441,442,441],leader:[[0,148],[0,69]]},
 {cx:474,y:192,lx:[474,474,474],leader:[[0,168],[0,180]]},
 {cx:506,y:93.5,lx:[506,504,506],leader:[[0,148],[0,127]]},
 {cx:541,y:258.5,lx:[541,541,541],leader:[[0,168],[0,248]]},
 {cx:577,y:22,lx:[576,576,576,576],leader:[[0,148],[0,69]]},
 {cx:617,y:220.5,lx:[617,617,617],leader:[[0,168],[0,210]]}];
const LH=10.45;
function addRich(sel,str){
  const re=/(\{[^}]*\})|(\^[^^]*\^)|([^{^]+)/g;let m,pending=0;
  while((m=re.exec(str))){
    const t=sel.append("tspan");
    if(m[1]){t.text(m[1].slice(1,-1)).attr("fill",BLUE);}
    else if(m[2]){t.text(m[2].slice(1,-1)).style("font-size","5.5px").attr("dy",-3);pending=3;continue;}
    else t.text(m[3]);
    if(pending){t.attr("dy",pending);pending=0;}
  }
}
const leaders=svg.append("g").attr("fill","none").attr("stroke",DOT).attr("stroke-width",2.3).attr("stroke-linecap","round").attr("stroke-dasharray","0 7.25");
const notes=svg.append("g").style("font-size","8.6px").attr("text-anchor","middle").attr("fill",INK);
eventTrack.forEach((v,i)=>{
  const x=track(v),L=noteLayout[i];
  leaders.append("path").attr("d",d3.line()(L.leader.map(p=>[p[0]===0?x:p[0],p[1]])));
  const title=notes.append("text").attr("x",L.cx).attr("y",L.y).attr("fill",ORANGE).style("text-decoration","underline");
  addRich(title,eventTitles[i]);
  eventLines[i].forEach((ln,j)=>{
    const t=notes.append("text").attr("x",L.lx[j]).attr("y",L.y+LH*(j+1));
    addRich(t,ln);
  });
});
const mk=svg.append("g");
eventTrack.forEach(v=>{
  mk.append("circle").attr("cx",track(v)).attr("cy",barY).attr("r",4.2).attr("fill","none").attr("stroke",DOT).attr("stroke-width",1);
  mk.append("circle").attr("cx",track(v)).attr("cy",barY).attr("r",1.4).attr("fill",DOT);
});
svg.append("text").text("a").attr("x",0).attr("y",15.5).style("font-size","26px").attr("fill","#111");
svg.append("text").text("b").attr("x",0).attr("y",328).style("font-size","26px").attr("fill","#111");

// map
const lerp=(tab,a)=>{const f=Math.min(17.999,Math.abs(a)/5),k=Math.floor(f);return tab[k]+(tab[k+1]-tab[k])*(f-k);};
const SX=1.84,SY=180,X0=328,Y0=491;
const project=d3.geoTransform({point(lon,lat){
  this.stream.point(X0+lon*SX*lerp(robinsonPlen,lat),Y0-Math.sign(lat)*SY*lerp(robinsonPdfe,lat));}});
const geoPath=d3.geoPath(project);
const colorOf=d3.scaleThreshold().domain(caseThresholds).range(binColors);
const features=Object.keys(outlines).map(name=>({type:"Feature",properties:{name,cases:cases[name]},
  geometry:{type:"MultiPolygon",coordinates:outlines[name].map(s=>{const r=s.split(";").map(p=>p.split(",").map(Number));r.push(r[0]);return [r];})}}));
svg.append("g").selectAll("path").data(features).join("path").attr("d",geoPath)
  .attr("fill",d=>d.properties.cases==null?"#ebebeb":colorOf(d.properties.cases))
  .attr("stroke","#6e6e6e").attr("stroke-opacity",.45).attr("stroke-width",.4).attr("stroke-linejoin","round");

// legend
const lx=d3.scalePoint().domain(legendLabels).range([160.3,580.3]);
const lg=svg.append("g");
lg.append("rect").attr("x",116.5).attr("y",675.5).attr("width",33.5).attr("height",8.5).attr("fill","#ebebeb").attr("stroke","#bdbdbd").attr("stroke-width",.7);
lg.append("text").text(noDataLabel).attr("x",133.5).attr("y",670).attr("text-anchor","middle").style("font-size","9.7px").attr("fill","#333");
binColors.forEach((c,i)=>lg.append("rect").attr("x",lx(legendLabels[i])).attr("y",675.5).attr("width",lx.step()).attr("height",8.5).attr("fill",c).attr("stroke","#8a8a8a").attr("stroke-opacity",.35).attr("stroke-width",.5));
legendLabels.forEach(t=>{
  lg.append("text").text(t).attr("x",lx(t)).attr("y",670).attr("text-anchor","middle").style("font-size","9.7px").attr("fill","#333");
  lg.append("line").attr("x1",lx(t)).attr("x2",lx(t)).attr("y1",672).attr("y2",675).attr("stroke","#999").attr("stroke-width",.5);
});
</script></body></html>
